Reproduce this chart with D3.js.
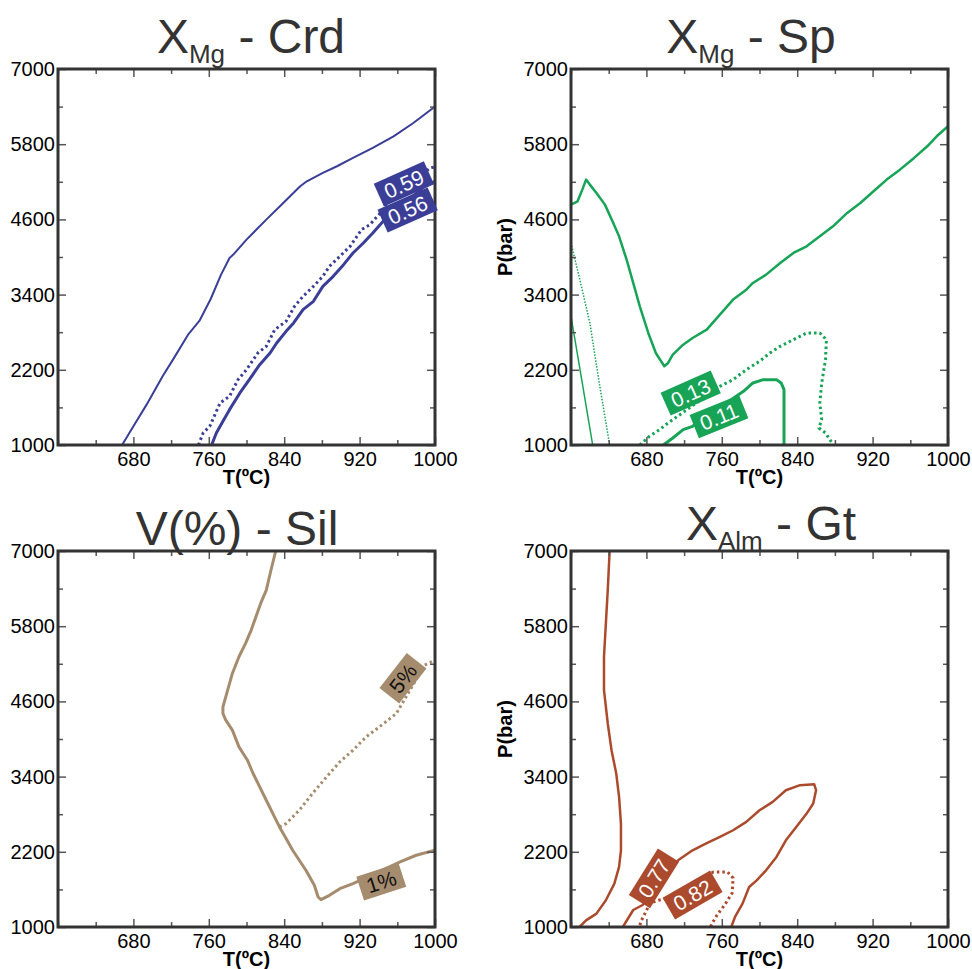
<!DOCTYPE html>
<html>
<head>
<meta charset="utf-8">
<script src="https://cdn.jsdelivr.net/npm/d3@7"></script>
<style>
  body { margin: 0; background: #fff; }
  svg { display: block; }
  text { font-family: "Liberation Sans", Arial, sans-serif; }
</style>
</head>
<body>
<div id="chart"></div>
<script>
// axis ticks
const tempTicks = [680, 760, 840, 920, 1000];
const tempMinor = [600, 640, 720, 800, 880, 960];
const presTicks = [1000, 2200, 3400, 4600, 5800, 7000];
const presMinor = [1600, 2800, 4000, 5200, 6400];

// XMg - Crd isopleths [T, P]
const crdUpper = [[668,1000],[680,1298],[694,1644],[711,2096],[722,2362],[738,2760],[750,2980],[762,3330],[773,3719],[782,3985],[786,4038],[800,4277],[807,4384],[821,4596],[839,4862],[857,5128],[864,5208],[881,5341],[896,5448],[913,5581],[934,5740],[956,5926],[977,6139],[998,6378],[1000,6394]];
const crd059 = [[749,1000],[754,1192],[761,1298],[772,1670],[782,1777],[791,2043],[800,2202],[812,2468],[821,2575],[830,2841],[842,2974],[851,3213],[860,3373],[871,3532],[881,3692],[888,3851],[899,4011],[910,4171],[922,4437],[931,4517],[942,4703],[949,4862],[967,5100],[995,5421],[1000,5440]];
const crd056 = [[763,1000],[768,1192],[775,1378],[782,1564],[793,1830],[803,2043],[814,2282],[825,2468],[832,2628],[842,2814],[850,2947],[860,3160],[871,3293],[881,3532],[892,3692],[903,3878],[913,4064],[924,4224],[934,4384],[945,4570],[989,5128],[1000,5208]];

// XMg - Sp isopleths
const spUpper = [[600,4836],[607,4889],[612,5075],[616,5235],[620,5155],[627,5022],[636,4836],[644,4570],[651,4330],[659,3958],[666,3586],[673,3213],[682,2788],[690,2468],[699,2256],[703,2309],[708,2442],[719,2601],[729,2708],[744,2841],[758,3080],[772,3320],[786,3479],[793,3586],[807,3719],[822,3905],[836,4064],[850,4171],[864,4330],[878,4490],[893,4703],[907,4862],[921,5049],[935,5235],[949,5394],[964,5581],[978,5767],[988,5926],[1000,6086]];
const spThinDot = [[600,4224],[610,3600],[620,2947],[630,1990],[641,1000]];
const spThin = [[600,3054],[609,2256],[623,1000]];
const sp013 = [[673,1000],[683,1138],[694,1245],[703,1351],[758,1936],[772,2043],[786,2202],[800,2335],[811,2468],[822,2575],[836,2681],[850,2788],[864,2788],[871,2681],[870,2362],[866,1990],[864,1670],[866,1404],[863,1271],[870,1192],[877,1032],[878,1000]];
const sp011 = [[698,1000],[708,1112],[719,1245],[729,1298],[783,1857],[793,1990],[804,2043],[818,2043],[823,1990],[826,1883],[826,1000]];

// V(%) - Sil isopleths
const sil1 = [[831,7000],[826,6697],[821,6377],[815,6164],[810,5951],[805,5738],[799,5525],[792,5312],[785,5046],[780,4780],[775,4514],[775,4407],[778,4301],[785,4141],[792,3875],[801,3662],[807,3449],[814,3236],[821,3023],[828,2810],[835,2597],[842,2411],[849,2224],[856,2065],[863,1905],[872,1666],[876,1479],[879,1437],[888,1506],[899,1612],[913,1692],[963,2038],[980,2145],[1000,2224]];
const sil5 = [[835,2597],[842,2650],[856,2863],[870,3130],[885,3396],[899,3635],[913,3822],[927,4035],[941,4194],[959,4407],[989,5179],[1000,5259]];

// XAlm - Gt isopleths
const gtLeft = [[641,7000],[639,6377],[637,5845],[635,5312],[635,4780],[639,4248],[643,3822],[648,3449],[651,3076],[653,2650],[653,2224],[651,1958],[646,1692],[637,1426],[627,1213],[616,1106],[609,1000]];
const gt077 = [[655,1000],[666,1271],[676,1351],[714,2069],[729,2224],[743,2331],[758,2437],[772,2544],[786,2677],[800,2863],[814,2996],[828,3183],[843,3263],[858,3279],[860,3183],[857,2970],[850,2810],[839,2597],[828,2384],[818,2118],[807,1905],[797,1745],[789,1639],[782,1373],[774,1160],[770,1000]];
const gt082 = [[673,1030],[675,1112],[684,1383],[694,1431],[705,1463],[751,1878],[766,1878],[772,1782],[771,1543],[763,1351],[755,1192],[750,1064],[748,1000]];

// contour labels
const crdLabels = [{text: "0.59", T: 967, P: 5166}, {text: "0.56", T: 971, P: 4750}];
const spLabels = [{text: "0.13", T: 727, P: 1830}, {text: "0.11", T: 757, P: 1452}];
const silLabels = [{text: "1%", T: 943, P: 1723}, {text: "5%", T: 966, P: 4969}];
const gtLabels = [{text: "0.77", T: 688, P: 1777}, {text: "0.82", T: 729, P: 1511}];

const W = 377, H = 376;
const dot = "2.5,3";

const panels = [
  {x0: 58, y0: 69, tx: 251, ty: 53, main: "X", sub: "Mg", rest: " - Crd", color: "#3b3e97", ink: "#fff", pAxis: false,
   lines: [{d: crdUpper, w: 2}, {d: crd059, w: 3, dash: dot}, {d: crd056, w: 3}],
   labels: crdLabels, angles: [-24, -24]},
  {x0: 571, y0: 69, tx: 751, ty: 53, main: "X", sub: "Mg", rest: " - Sp", color: "#17a457", ink: "#fff", pAxis: true,
   lines: [{d: spUpper, w: 2.5}, {d: spThinDot, w: 1.5, dash: "1.5,1.5"}, {d: spThin, w: 1.5}, {d: sp013, w: 3, dash: dot}, {d: sp011, w: 3}],
   labels: spLabels, angles: [-24, -22]},
  {x0: 58, y0: 551, tx: 237, ty: 545, main: "V(%) - Sil", sub: "", rest: "", color: "#a58c6e", ink: "#111", pAxis: false,
   lines: [{d: sil1, w: 3}, {d: sil5, w: 3, dash: dot}],
   labels: silLabels, angles: [-18, -52]},
  {x0: 571, y0: 551, tx: 771, ty: 540, main: "X", sub: "Alm", rest: " - Gt", color: "#ab4a2d", ink: "#fff", pAxis: true,
   lines: [{d: gtLeft, w: 2.5}, {d: gt077, w: 2.5}, {d: gt082, w: 3, dash: dot}],
   labels: gtLabels, angles: [-58, -30]}
];

const svg = d3.select("#chart").append("svg")
  .attr("width", 972)
  .attr("height", 969);

const x = d3.scaleLinear().domain([600, 1000]).range([0, W]);
const y = d3.scaleLinear().domain([1000, 7000]).range([H, 0]);
const line = d3.line().x(d => x(d[0])).y(d => y(d[1]));

function styleAxis(a) {
  a.select(".domain").remove();
  a.attr("font-size", 20).attr("font-family", null);
  a.selectAll("line").attr("stroke", "#555").attr("stroke-width", 1.5);
  a.selectAll("text").attr("fill", "#000");
}

panels.forEach(function (p, i) {
  // title
  const t = svg.append("text")
    .attr("x", p.tx).attr("y", p.ty)
    .attr("text-anchor", "middle")
    .attr("fill", "#333")
    .attr("font-size", 48);
  t.append("tspan").text(p.main);
  if (p.sub) {
    t.append("tspan").attr("font-size", 26).attr("dy", 10).text(p.sub);
    t.append("tspan").attr("dy", -10).text(p.rest);
  }

  const g = svg.append("g").attr("transform", "translate(" + p.x0 + "," + p.y0 + ")");

  g.append("clipPath").attr("id", "clip" + i)
    .append("rect").attr("width", W).attr("height", H);

  // isopleths
  g.append("g").attr("clip-path", "url(#clip" + i + ")")
    .selectAll("path")
    .data(p.lines)
    .join("path")
    .attr("d", d => line(d.d))
    .attr("fill", "none")
    .attr("stroke", p.color)
    .attr("stroke-width", d => d.w)
    .attr("stroke-linejoin", "round")
    .attr("stroke-dasharray", d => d.dash || null);

  // axes, ticks pointing inward
  g.append("g").attr("transform", "translate(0," + H + ")")
    .call(d3.axisBottom(x).tickValues(tempTicks).tickSize(-8).tickPadding(7).tickFormat(d3.format("d")))
    .call(styleAxis);
  g.append("g").attr("transform", "translate(0," + H + ")")
    .call(d3.axisBottom(x).tickValues(tempMinor).tickSize(-5).tickFormat(""))
    .call(styleAxis);
  g.append("g")
    .call(d3.axisTop(x).tickValues(tempTicks).tickSize(-8).tickFormat(""))
    .call(styleAxis);
  g.append("g")
    .call(d3.axisTop(x).tickValues(tempMinor).tickSize(-5).tickFormat(""))
    .call(styleAxis);
  g.append("g")
    .call(d3.axisLeft(y).tickValues(presTicks).tickSize(-8).tickPadding(3).tickFormat(d3.format("d")))
    .call(styleAxis);
  g.append("g")
    .call(d3.axisLeft(y).tickValues(presMinor).tickSize(-5).tickFormat(""))
    .call(styleAxis);
  g.append("g").attr("transform", "translate(" + W + ",0)")
    .call(d3.axisRight(y).tickValues(presTicks).tickSize(-8).tickFormat(""))
    .call(styleAxis);
  g.append("g").attr("transform", "translate(" + W + ",0)")
    .call(d3.axisRight(y).tickValues(presMinor).tickSize(-5).tickFormat(""))
    .call(styleAxis);

  g.append("rect")
    .attr("width", W).attr("height", H)
    .attr("fill", "none")
    .attr("stroke", "#333")
    .attr("stroke-width", 3);

  // contour labels
  const labs = g.selectAll("g.lab")
    .data(p.labels)
    .join("g")
    .attr("class", "lab")
    .attr("transform", (d, j) => "translate(" + x(d.T) + "," + y(d.P) + ") rotate(" + p.angles[j] + ")");
  labs.append("rect").attr("fill", p.color);
  labs.append("text")
    .attr("text-anchor", "middle")
    .attr("dy", "0.36em")
    .attr("font-size", 21)
    .attr("fill", p.ink)
    .text(d => d.text);
  labs.each(function () {
    const tw = d3.select(this).select("text").node().getComputedTextLength();
    d3.select(this).select("rect")
      .attr("x", -tw / 2 - 7).attr("y", -12.5)
      .attr("width", tw + 14).attr("height", 25);
  });

  // axis titles
  g.append("text")
    .attr("x", W / 2).attr("y", H + 39)
    .attr("text-anchor", "middle")
    .attr("font-size", 20)
    .attr("font-weight", "bold")
    .text("T(ºC)");
  if (p.pAxis) {
    g.append("text")
      .attr("transform", "translate(-59," + (H / 2 - 10) + ") rotate(-90)")
      .attr("text-anchor", "middle")
      .attr("font-size", 20)
      .attr("font-weight", "bold")
      .text("P(bar)");
  }
});
</script>
</body>
</html>
